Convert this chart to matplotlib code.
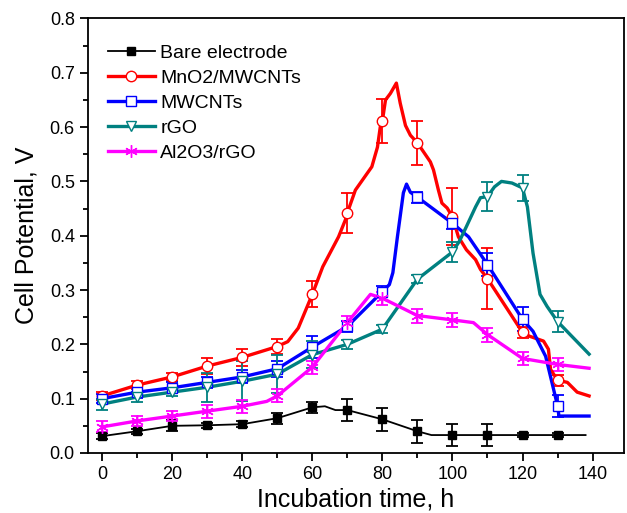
import matplotlib
matplotlib.use("Agg")
import matplotlib.pyplot as plt
from matplotlib.lines import Line2D

plt.rcParams['font.family'] = ['Liberation Sans', 'DejaVu Sans']

# sampling times with markers / error bars
t = [0, 10, 20, 30, 40, 50, 60, 70, 80, 90, 100, 110, 120, 130]

labels = ["Bare electrode", "MnO2/MWCNTs", "MWCNTs", "rGO", "Al2O3/rGO"]
colors = ["black", "#FF0000", "#0000FF", "#008080", "#FF00FF"]

# marker values and errors
bare = [0.031, 0.040, 0.050, 0.051, 0.053, 0.064, 0.084, 0.079, 0.062, 0.040, 0.033, 0.033, 0.033, 0.033]
bare_err = [0.005, 0.005, 0.010, 0.005, 0.005, 0.010, 0.010, 0.020, 0.021, 0.021, 0.020, 0.020, 0.003, 0.003]
mno2 = [0.105, 0.125, 0.140, 0.160, 0.176, 0.196, 0.292, 0.442, 0.611, 0.571, 0.435, 0.321, 0.222, 0.134]
mno2_err = [0.008, 0.008, 0.008, 0.015, 0.015, 0.013, 0.024, 0.037, 0.040, 0.040, 0.053, 0.056, 0.010, 0.010]
mwcnt = [0.100, 0.112, 0.120, 0.130, 0.140, 0.155, 0.195, 0.233, 0.297, 0.471, 0.423, 0.347, 0.246, 0.087]
mwcnt_err = [0.008, 0.010, 0.010, 0.010, 0.012, 0.015, 0.020, 0.010, 0.010, 0.010, 0.010, 0.022, 0.022, 0.020]
rgo = [0.090, 0.103, 0.112, 0.121, 0.132, 0.145, 0.181, 0.200, 0.228, 0.320, 0.370, 0.472, 0.488, 0.242]
rgo_err = [0.010, 0.010, 0.008, 0.027, 0.037, 0.035, 0.025, 0.008, 0.007, 0.007, 0.019, 0.027, 0.024, 0.020]
al2o3 = [0.048, 0.059, 0.068, 0.077, 0.086, 0.105, 0.158, 0.240, 0.285, 0.253, 0.245, 0.218, 0.174, 0.163]
al2o3_err = [0.010, 0.010, 0.010, 0.012, 0.012, 0.012, 0.012, 0.012, 0.012, 0.013, 0.013, 0.013, 0.012, 0.012]

# the drawn (smoothed) curves, read at more points
bare_lx = [0, 10, 20, 30, 40, 50, 60, 63.6, 66.6, 70, 80, 90, 94, 100, 110, 120, 130, 138]
bare_ly = [0.031, 0.040, 0.050, 0.051, 0.053, 0.064, 0.084, 0.086, 0.079, 0.079, 0.062, 0.040, 0.033,
           0.033, 0.033, 0.033, 0.033, 0.033]
mno2_lx = [0, 10, 20, 30, 40, 50, 53, 56, 60, 63, 67.5, 69.5, 70, 72.3, 77, 78.6, 79.4, 80, 80.9, 82.3,
           84, 85.1, 86.6, 88, 90, 93.7, 94.6, 96, 97, 98.5, 100, 101.7, 104, 106.6, 108, 110, 120,
           122, 126, 127.4, 128, 130, 132.8, 135.6, 139]
mno2_ly = [0.105, 0.125, 0.140, 0.160, 0.176, 0.196, 0.205, 0.230, 0.292, 0.343, 0.398, 0.430, 0.442,
           0.484, 0.527, 0.563, 0.600, 0.611, 0.650, 0.662, 0.681, 0.644, 0.603, 0.585, 0.571, 0.536,
           0.521, 0.484, 0.460, 0.451, 0.435, 0.398, 0.374, 0.356, 0.338, 0.321, 0.222, 0.215, 0.206,
           0.191, 0.154, 0.134, 0.130, 0.112, 0.105]
mwcnt_lx = [0, 10, 20, 30, 40, 50, 60, 70, 80, 82, 83, 84.3, 86, 86.9, 88, 90, 100, 104.6, 110, 120,
            123, 126.6, 130, 130.4, 139]
mwcnt_ly = [0.100, 0.112, 0.120, 0.130, 0.140, 0.155, 0.195, 0.233, 0.297, 0.310, 0.332, 0.398, 0.479,
            0.495, 0.480, 0.471, 0.423, 0.398, 0.347, 0.246, 0.224, 0.178, 0.087, 0.068, 0.068]
rgo_lx = [0, 10, 20, 30, 40, 50, 60, 70, 80, 90, 100, 102, 104, 106.6, 108, 110, 112, 114, 117, 120,
          121.4, 123, 125, 127, 130, 139]
rgo_ly = [0.090, 0.103, 0.112, 0.121, 0.132, 0.145, 0.181, 0.200, 0.228, 0.320, 0.370, 0.390, 0.417,
          0.453, 0.470, 0.472, 0.490, 0.500, 0.497, 0.488, 0.453, 0.368, 0.292, 0.270, 0.242, 0.182]
al2o3_lx = [0, 10, 20, 30, 40, 47, 50, 60, 70, 76.6, 80, 90, 100, 106, 110, 120, 130, 139]
al2o3_ly = [0.048, 0.059, 0.068, 0.077, 0.086, 0.095, 0.105, 0.158, 0.240, 0.292, 0.285, 0.253, 0.245,
            0.240, 0.218, 0.174, 0.163, 0.156]

series = [
    (bare, bare_err, bare_lx, bare_ly, "s", 6, "black", 1.3),
    (mno2, mno2_err, mno2_lx, mno2_ly, "o", 7.5, "white", 2.4),
    (mwcnt, mwcnt_err, mwcnt_lx, mwcnt_ly, "s", 6.5, "white", 2.4),
    (rgo, rgo_err, rgo_lx, rgo_ly, "v", 7.5, "white", 2.4),
    (al2o3, al2o3_err, al2o3_lx, al2o3_ly, (6, 2, 0), 9, "none", 2.4),
]

fig = plt.figure(figsize=(6.27, 5.13), dpi=100)
ax = fig.add_axes([0.1404, 0.117, 0.855, 0.847])

handles = []
for (vals, err, lx, ly, mk, ms, mfc, lw), c, lab in zip(series, colors, labels):
    ax.errorbar(t, vals, yerr=err, fmt="none", ecolor=c, elinewidth=1.3,
                capsize=4.3, capthick=1.3, zorder=2)
    ax.plot(lx, ly, color=c, lw=lw, zorder=3)
    ax.plot(t, vals, linestyle="none", marker=mk, ms=ms, mfc=mfc, mec=c,
            mew=1.0, zorder=4)
    handles.append(Line2D([], [], color=c, lw=lw, marker=mk, ms=ms, mfc=mfc,
                          mec=c, mew=1.0))

ax.set_xlim(-4, 149)
ax.set_ylim(0, 0.8)
ax.set_xticks(range(0, 141, 20))
ax.set_xticks(range(10, 141, 20), minor=True)
ax.set_yticks([0.0, 0.1, 0.2, 0.3, 0.4, 0.5, 0.6, 0.7, 0.8])
ax.set_yticks([0.05, 0.15, 0.25, 0.35, 0.45, 0.55, 0.65, 0.75], minor=True)
ax.set_yticklabels(["0.0", "0.1", "0.2", "0.3", "0.4", "0.5", "0.6", "0.7", "0.8"])
ax.tick_params(which="major", direction="out", length=6, width=1.3, labelsize=13)
ax.tick_params(which="minor", direction="out", length=3.5, width=1.3)
for s in ax.spines.values():
    s.set_linewidth(1.3)

ax.set_xlabel("Incubation time, h", fontsize=18, labelpad=3)
ax.set_ylabel("Cell Potential, V", fontsize=18, labelpad=8)

ax.legend(handles, labels, loc="upper left", bbox_to_anchor=(0.037, 0.94),
          frameon=False, fontsize=14, handlelength=2.4, handletextpad=0.3,
          labelspacing=0.38, borderpad=0, borderaxespad=0)

fig.savefig("out.png", dpi=100)
